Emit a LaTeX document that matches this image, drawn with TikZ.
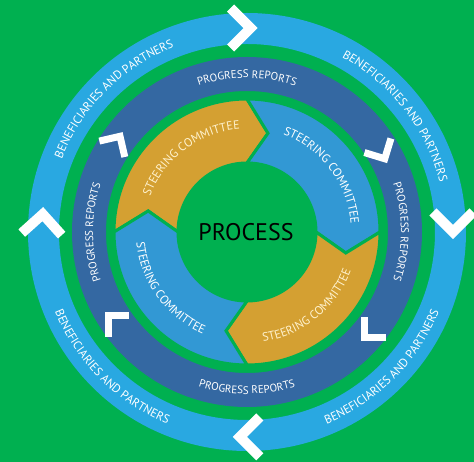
\documentclass[tikz,border=0pt]{standalone}
\usepackage{fontspec}
\setmainfont{PT Sans}
\usetikzlibrary{decorations.text}
\definecolor{bggreen}{RGB}{0,176,80}
\definecolor{ringlight}{RGB}{41,168,225}
\definecolor{ringdark}{RGB}{52,104,162}
\definecolor{steerblue}{RGB}{50,152,212}
\definecolor{steergold}{RGB}{212,160,50}
\definecolor{cream}{RGB}{255,242,205}
\newcommand\fOuter{\fontsize{12}{14}\selectfont}
\newcommand\fMid{\fontsize{11}{13}\selectfont}
\newcommand\fIn{\fontsize{12}{14}\selectfont}
% steering segment: tail angle, head angle, colour
\newcommand\steerseg[3]{%
  \filldraw[fill=#3, draw=bggreen, line width=3pt, line join=miter]
    (#1:133) arc[start angle=#1, end angle=#2, radius=133]
    -- ({#2-12}:101) -- (#2:69) arc[start angle=#2, end angle=#1, radius=69]
    -- ({#1-12}:101) -- cycle;}
% chevron: angle, radius, rotation, half arm, width
\newcommand\chev[5]{%
  \begin{scope}[shift={(#1:#2)}, rotate=#3]
    \draw[white, line width=#5, line join=miter] (-#4,#4) -- (0,0) -- (-#4,-#4);
  \end{scope}}
% clockwise (outward-facing) text: centre angle, radius, font, text, colour
\newcommand\cwtext[5]{%
  \path[decorate, decoration={text along path, text={|#3|#4}, text align=center, text color=#5}]
    ({#1+80}:#2) arc[start angle={#1+80}, end angle={#1-80}, radius=#2];}
% counter-clockwise (inward-facing) text
\newcommand\ccwtext[5]{%
  \path[decorate, decoration={text along path, text={|#3|#4}, text align=center, text color=#5}]
    ({#1-80}:#2) arc[start angle={#1-80}, end angle={#1+80}, radius=#2];}
\begin{document}
\begin{tikzpicture}[x=1pt,y=1pt]
\fill[bggreen] (-247,-230) rectangle (227,232);
\useasboundingbox (-247,-230) rectangle (227,232);
% rings
\fill[ringlight, even odd rule] (0,0) circle[radius=219] (0,0) circle[radius=188];
\fill[ringdark, even odd rule] (0,0) circle[radius=175] (0,0) circle[radius=141];
% outer chevrons
\chev{89}{204}{0}{20}{10pt}
\chev{0}{206}{-90}{20}{10pt}
\chev{268}{205}{180}{20}{10pt}
\chev{175}{205}{87}{20}{10pt}
% inner chevrons
\chev{28}{156}{-62}{15}{7pt}
\chev{-42}{158}{-135}{15}{7pt}
\chev{211}{162}{135}{15}{7pt}
\chev{143}{159}{58}{15}{7pt}
% steering ring
\steerseg{180}{90}{steergold}
\steerseg{90}{0}{steerblue}
\steerseg{0}{-90}{steergold}
\steerseg{-90}{-180}{steerblue}
% outer texts
\cwtext{135}{199}{\fOuter}{BENEFICIARIES AND PARTNERS}{white}
\cwtext{38}{199}{\fOuter}{BENEFICIARIES AND PARTNERS}{white}
\ccwtext{225}{208}{\fOuter}{BENEFICIARIES AND PARTNERS}{white}
\ccwtext{315}{208}{\fOuter}{BENEFICIARIES AND PARTNERS}{white}
% middle texts
\cwtext{90}{154}{\fMid}{PROGRESS REPORTS}{white}
\cwtext{0}{154}{\fMid}{PROGRESS REPORTS}{white}
\cwtext{180}{154}{\fMid}{PROGRESS REPORTS}{white}
\ccwtext{270}{162}{\fMid}{PROGRESS REPORTS}{white}
% steering texts
\cwtext{127}{103}{\fIn}{STEERING COMMITTEE}{cream}
\cwtext{37}{104}{\fIn}{STEERING COMMITTEE}{white}
\ccwtext{-51}{111}{\fIn}{STEERING COMMITTEE}{cream}
\ccwtext{216}{111}{\fIn}{STEERING COMMITTEE}{white}
% centre
\node[font=\fontsize{24}{28}\selectfont, text=black] (process) at (-1,0) {PROCESS};
\end{tikzpicture}
\end{document}
